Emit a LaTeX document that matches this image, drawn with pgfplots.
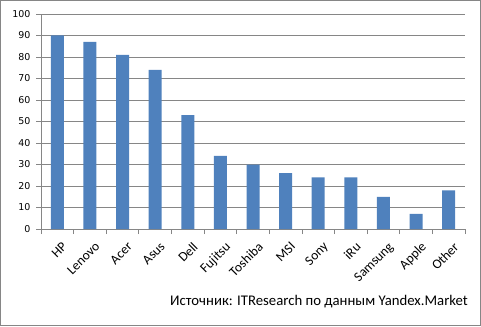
\documentclass[border=0pt]{standalone}
\usepackage{pgfplots}
\pgfplotsset{compat=1.18}
\usepackage{fontspec}
\setmainfont{Carlito}
\newfontfamily\dejavu{DejaVu Sans}
\definecolor{barblue}{HTML}{4F81BD}
\definecolor{gridgray}{HTML}{868686}
\begin{document}
\begin{tikzpicture}[x=1bp,y=1bp]
\useasboundingbox (0,0) rectangle (481,326);
\draw[gridgray, line width=1bp] (0.5,0.5) rectangle (480.5,325.5);
\begin{axis}[
  at={(41bp,97bp)}, anchor=south west,
  scale only axis, width=424bp, height=215bp,
  xmin=-0.5, xmax=12.5, ymin=0, ymax=100,
  ytick distance=10,
  xtick={0,...,12},
  xticklabels={HP,Lenovo,Acer,Asus,Dell,Fujitsu,Toshiba,MSI,Sony,iRu,Samsung,Apple,Other},
  minor xtick={-0.5,0.5,...,12.5},
  axis x line*=bottom, axis y line*=left,
  axis line style={gridgray, line width=0.8bp},
  tick align=outside,
  major x tick style={draw=none},
  minor x tick style={gridgray, line width=0.8bp},
  major y tick style={gridgray, line width=0.8bp},
  major tick length=5bp, minor tick length=5bp,
  ymajorgrids, grid style={gridgray, line width=0.8bp},
  /pgf/number format/assume math mode=true,
  yticklabel style={font=\dejavu\fontsize{9.5}{11}\selectfont, xshift=-2bp},
  xticklabel style={font=\fontsize{13.5}{15}\selectfont, rotate=45, anchor=north east, inner sep=1bp, xshift=-1bp, yshift=-7bp},
  ybar, bar width=13bp,
]
\addplot[fill=barblue, draw=none] coordinates {
(0,90) (1,87) (2,81) (3,74) (4,53) (5,34) (6,30) (7,26) (8,24) (9,24) (10,15) (11,7) (12,18)};
\end{axis}
\node[anchor=east, font=\fontsize{14.8}{17}\selectfont, inner sep=0pt] at (468,24) {Источник: ITResearch по данным Yandex.Market};
\end{tikzpicture}
\end{document}
